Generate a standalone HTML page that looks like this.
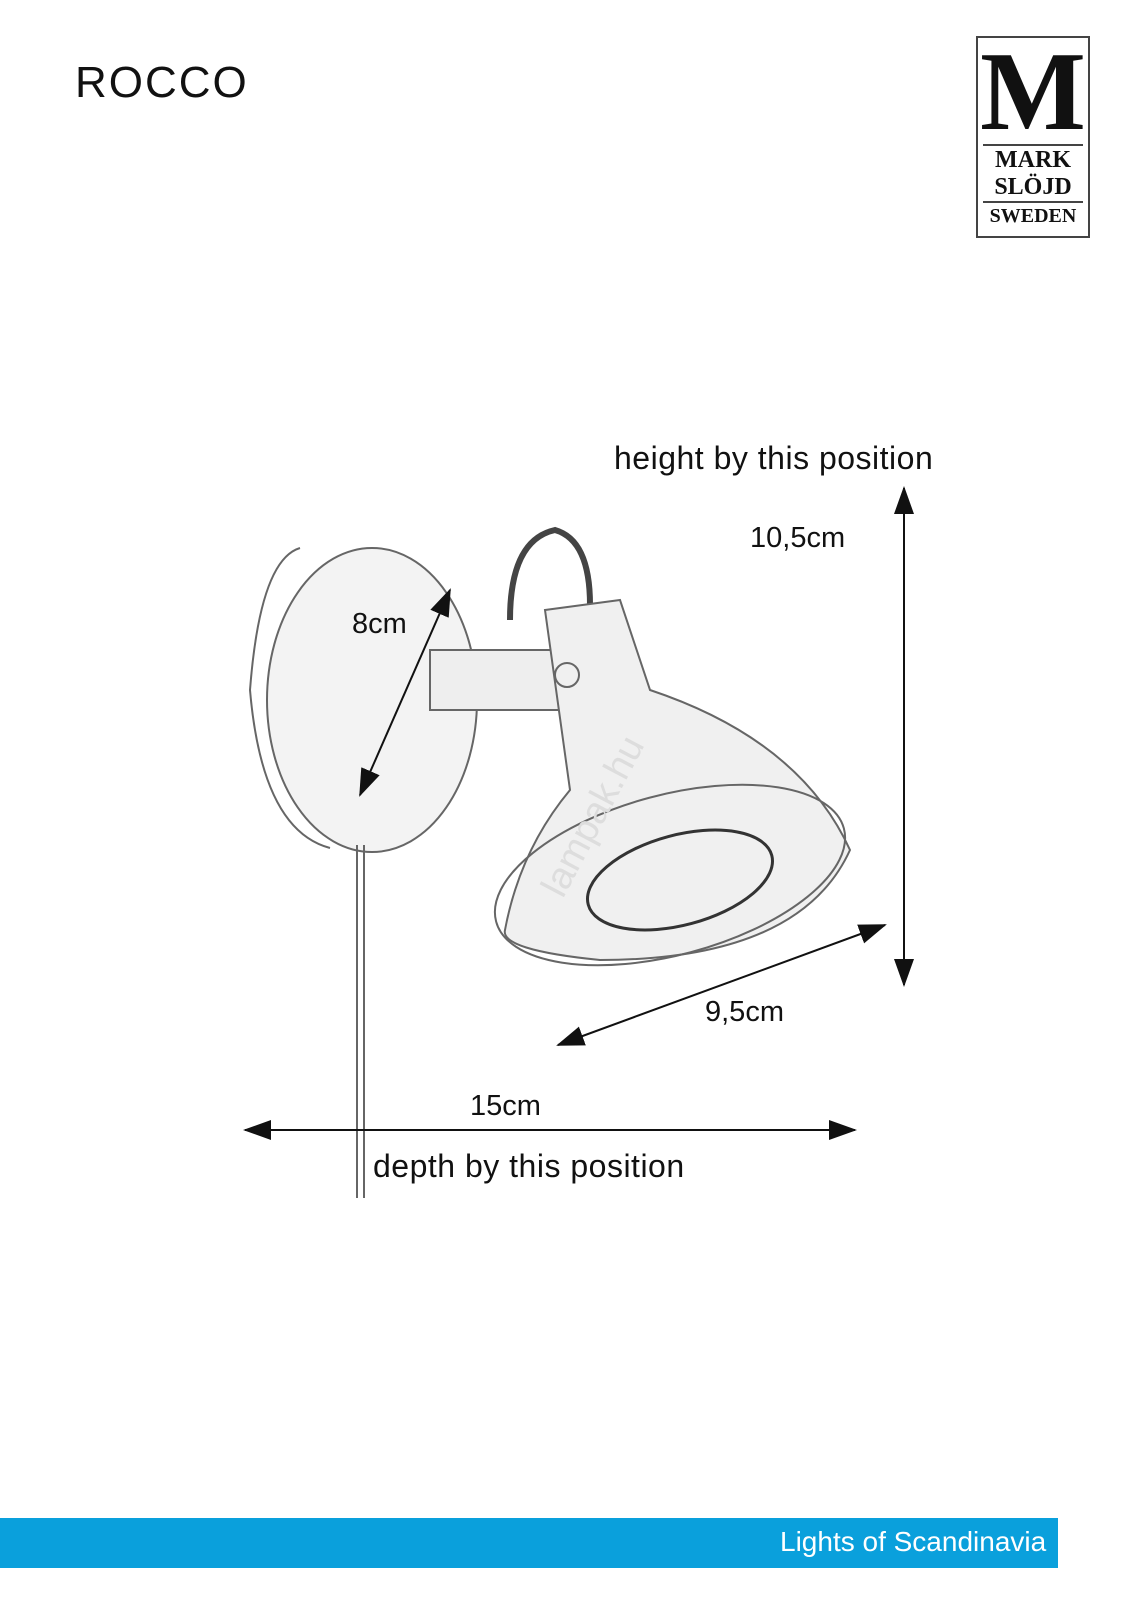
<!DOCTYPE html>
<html><head><style>
body{margin:0;width:1131px;height:1600px;background:#fff;position:relative;overflow:hidden;font-family:"Liberation Sans",sans-serif}
.t{position:absolute;color:#111;white-space:nowrap}
</style></head><body>
<div class="t" style="left:75px;top:58px;font-size:44px;letter-spacing:2px">ROCCO</div>
<div style="position:absolute;left:976px;top:36px;width:114px;height:202px;border:2px solid #444;box-sizing:border-box;text-align:center;font-family:'Liberation Serif',serif;font-weight:bold;color:#111">
<div style="font-size:112px;line-height:100px;margin-top:4px">M</div>
<div style="border-top:2px solid #444;margin:2px 5px 0"></div>
<div style="font-size:24px;line-height:28px">MARK</div>
<div style="font-size:24px;line-height:26px">SLÖJD</div>
<div style="border-top:2px solid #444;margin:1px 5px 0"></div>
<div style="font-size:20px;line-height:26px">SWEDEN</div>
</div>
<svg width="1131" height="1600" style="position:absolute;left:0;top:0">
<defs><marker id="a" markerWidth="14" markerHeight="10" refX="13" refY="5" orient="auto-start-reverse"><path d="M0,0L14,5L0,10z" fill="#111"/></marker></defs>
<g fill="none" stroke="#666" stroke-width="2">
<ellipse cx="372" cy="700" rx="105" ry="152" fill="#f3f3f3"/>
<path d="M300,548 Q260,560 250,690 Q262,830 330,848"/>
<path d="M357,845 L357,1198 M364,845 L364,1198"/>
<rect x="430" y="650" width="160" height="60" fill="#eee"/>
<path d="M510,620 Q510,540 555,530 Q590,540 590,605" stroke="#444" stroke-width="6"/>
<path d="M545,610 L620,600 L650,690 Q800,740 850,850 Q800,960 600,960 Q500,950 505,930 Q520,850 570,790 Z" fill="#f0f0f0"/>
<ellipse cx="670" cy="875" rx="180" ry="80" transform="rotate(-15 670 875)"/>
<ellipse cx="680" cy="880" rx="95" ry="45" transform="rotate(-15 680 880)" stroke="#333" stroke-width="3"/>
<circle cx="567" cy="675" r="12"/>
</g>
<text x="470" y="895" transform="rotate(-62 520 820)" font-size="38" fill="#ddd" font-family="Liberation Sans">lampak.hu</text>
<g stroke="#111" stroke-width="2" marker-start="url(#a)" marker-end="url(#a)">
<line x1="904" y1="488" x2="904" y2="985"/>
<line x1="450" y1="590" x2="360" y2="795"/>
<line x1="885" y1="925" x2="558" y2="1045"/>
<line x1="245" y1="1130" x2="855" y2="1130"/>
</g>
</svg>
<div class="t" style="left:614px;top:440px;font-size:32px;letter-spacing:0.5px">height by this position</div>
<div class="t" style="left:750px;top:522px;font-size:29px">10,5cm</div>
<div class="t" style="left:352px;top:608px;font-size:29px">8cm</div>
<div class="t" style="left:705px;top:996px;font-size:29px">9,5cm</div>
<div class="t" style="left:470px;top:1090px;font-size:29px">15cm</div>
<div class="t" style="left:373px;top:1148px;font-size:32px;letter-spacing:0.5px">depth by this position</div>
<div style="position:absolute;left:0;top:1518px;width:1058px;height:50px;background:#0aa0dc"></div>
<div class="t" style="left:780px;top:1526px;font-size:28px;color:#fff">Lights of Scandinavia</div>
</body></html>
